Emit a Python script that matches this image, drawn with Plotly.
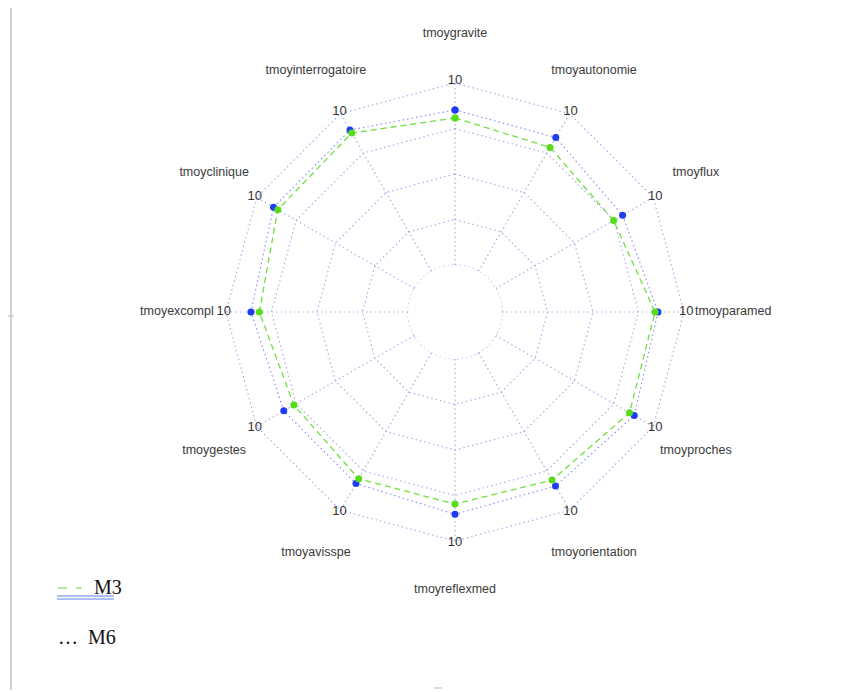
import plotly.graph_objects as go

categories = ["tmoygravite", "tmoyautonomie", "tmoyflux", "tmoyparamed", "tmoyproches",
              "tmoyorientation", "tmoyreflexmed", "tmoyavisspe", "tmoygestes",
              "tmoyexcompl", "tmoyclinique", "tmoyinterrogatoire"]
m3_values = [8.08, 7.86, 7.48, 8.41, 8.49, 8.08, 7.97, 8.00, 7.64, 8.17, 8.66, 8.77]
m6_values = [8.52, 8.49, 8.05, 8.57, 8.79, 8.46, 8.53, 8.30, 8.28, 8.63, 8.93, 8.96]
grid_levels = [0, 2.5, 5, 7.5, 10]
axis_max_label = "10"
r_max = 10
r_view = 13.3          # radial range kept larger so outer labels sit inside it
r_num_label = 10.12
r_cat_label = 12.7

n = len(categories)
theta = [360.0 * i / n for i in range(n)]

W, H = 855, 692
OFF = 8                # body margin of the html page
cx, cy = 455 - OFF, 312 - OFF
unit_px, R_hole = 18.2, 47
R_out = R_hole + r_view * unit_px

grid_col = "rgba(145,145,228,0.75)"
grid_line = dict(color=grid_col, width=1.2, dash="1.5px,3px")
fig = go.Figure()

# rings
for lv in grid_levels:
    fig.add_trace(go.Scatterpolar(r=[lv] * (n + 1), theta=theta + [theta[0]], mode="lines",
                                  line=grid_line, hoverinfo="skip", showlegend=False))
# spokes
sr, st = [], []
for t in theta:
    sr += [0, r_max, None]
    st += [t, t, None]
fig.add_trace(go.Scatterpolar(r=sr, theta=st, mode="lines", line=grid_line,
                              hoverinfo="skip", showlegend=False))
# hole circle
circ_t = list(range(0, 361, 3))
fig.add_trace(go.Scatterpolar(r=[0] * len(circ_t), theta=circ_t, mode="lines",
                              line=grid_line, hoverinfo="skip", showlegend=False))

# series
fig.add_trace(go.Scatterpolar(r=m6_values + [m6_values[0]], theta=theta + [theta[0]],
                              mode="lines+markers", name="M6",
                              line=dict(color="rgba(90,100,255,0.7)", width=1.2, dash="1.5px,3px"),
                              marker=dict(color="#1f3cf5", size=7), showlegend=False))
fig.add_trace(go.Scatterpolar(r=m3_values + [m3_values[0]], theta=theta + [theta[0]],
                              mode="lines+markers", name="M3",
                              line=dict(color="#6fe040", width=1.3, dash="6px,4px"),
                              marker=dict(color="#55dd1a", size=7), showlegend=False))

# "10" labels and category labels
fig.add_trace(go.Scatterpolar(r=[r_num_label] * n, theta=theta, mode="text",
                              text=[axis_max_label] * n, cliponaxis=False,
                              textfont=dict(family="Liberation Sans, Arial", size=13, color="#333333"),
                              hoverinfo="skip", showlegend=False))
fig.add_trace(go.Scatterpolar(r=[r_cat_label] * n, theta=theta, mode="text",
                              text=categories, cliponaxis=False,
                              textfont=dict(family="Liberation Sans, Arial", size=12.5, color="#3a3a3a"),
                              hoverinfo="skip", showlegend=False))

fig.update_layout(
    width=W, height=H, margin=dict(l=0, r=0, t=0, b=0),
    paper_bgcolor="white", plot_bgcolor="white",
    polar=dict(
        domain=dict(x=[(cx - R_out) / W, (cx + R_out) / W],
                    y=[(H - cy - R_out) / H, (H - cy + R_out) / H]),
        hole=R_hole / R_out,
        bgcolor="rgba(0,0,0,0)",
        radialaxis=dict(range=[0, r_view], visible=False),
        angularaxis=dict(direction="clockwise", rotation=90, showgrid=False,
                         showticklabels=False, showline=False, ticks=""),
    ),
)

def px(x):
    return (x - OFF) / W

def py(y):
    return 1 - (y - OFF) / H

shapes = [
    dict(type="line", xref="paper", yref="paper", x0=px(11), x1=px(11), y0=py(6), y1=py(690),
         line=dict(color="#d6d0cc", width=2)),
    dict(type="line", xref="paper", yref="paper", x0=px(58), x1=px(82), y0=py(588), y1=py(588),
         line=dict(color="#9be07a", width=1.5, dash="dash")),
    dict(type="line", xref="paper", yref="paper", x0=px(57), x1=px(114), y0=py(596), y1=py(596),
         line=dict(color="#5b80e6", width=1)),
    dict(type="line", xref="paper", yref="paper", x0=px(57), x1=px(114), y0=py(599), y1=py(599),
         line=dict(color="#5b80e6", width=1)),
    dict(type="line", xref="paper", yref="paper", x0=px(8), x1=px(14), y0=py(316), y1=py(316),
         line=dict(color="#bbbbbb", width=1)),
    dict(type="line", xref="paper", yref="paper", x0=px(434), x1=px(442), y0=py(688), y1=py(688),
         line=dict(color="#bbbbbb", width=1)),
]
annotations = [
    dict(x=px(92), y=py(587), xref="paper", yref="paper", text="M3", showarrow=False,
         xanchor="left", yanchor="middle",
         font=dict(family="Liberation Serif, Times New Roman", size=20, color="#111111")),
    dict(x=px(56), y=py(637), xref="paper", yref="paper", text="…  M6", showarrow=False,
         xanchor="left", yanchor="middle",
         font=dict(family="Liberation Serif, Times New Roman", size=20, color="#111111")),
]
fig.update_layout(shapes=shapes, annotations=annotations)

fig.write_html("out.html")
